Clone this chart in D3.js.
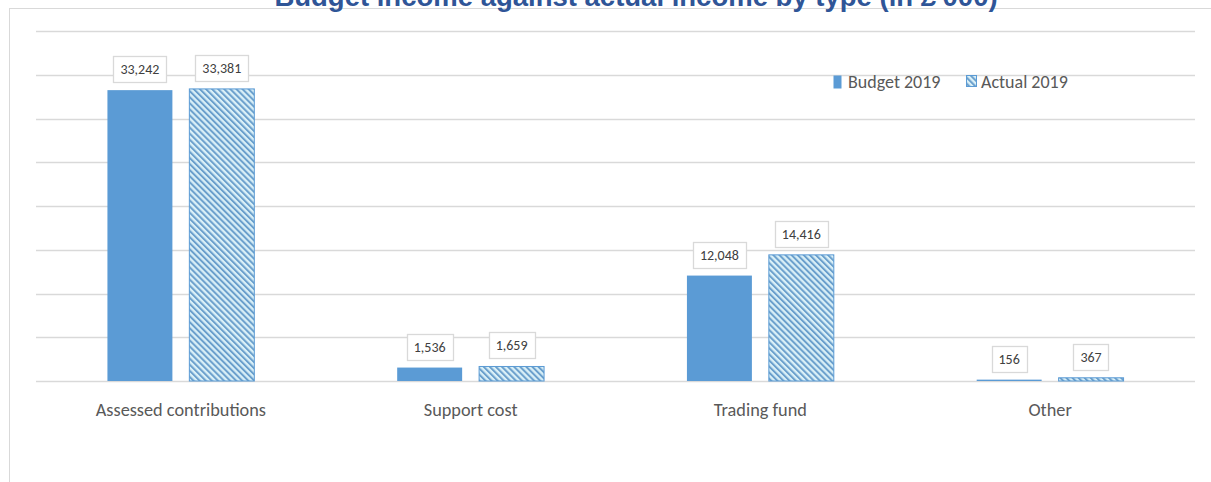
<!DOCTYPE html>
<html>
<head>
<meta charset="utf-8">
<script src="https://cdn.jsdelivr.net/npm/d3@7"></script>
<style>
  body { margin: 0; background: #fff; }
  svg { display: block; }
</style>
</head>
<body>
<div id="vis-container"></div>
<script>
// Chart data
const categories = ["Assessed contributions", "Support cost", "Trading fund", "Other"];
const seriesNames = ["Budget 2019", "Actual 2019"];
const budget2019 = [33242, 1536, 12048, 156];
const actual2019 = [33381, 1659, 14416, 367];
const gridTicks = [0, 5000, 10000, 15000, 20000, 25000, 30000, 35000, 40000];
const titleText = "Budget income against actual income by type (in £'000)";

const width = 1211;
const height = 482;
const margin = { top: 31, right: 16, bottom: 101, left: 36 };

const svg = d3.select("#vis-container")
  .append("svg")
  .attr("width", width)
  .attr("height", height);

// hatch pattern for the actual series
const defs = svg.append("defs");
const pat = defs.append("pattern")
  .attr("id", "hatch")
  .attr("patternUnits", "userSpaceOnUse")
  .attr("width", 4.3)
  .attr("height", 4.3)
  .attr("patternTransform", "rotate(-45)");
pat.append("rect").attr("width", 4.3).attr("height", 4.3).attr("fill", "#daf0f7");
pat.append("rect").attr("width", 2).attr("height", 4.3).attr("fill", "#6a9fcc");

// chart frame
svg.append("rect")
  .attr("x", 9.5)
  .attr("y", 8.5)
  .attr("width", width + 20)
  .attr("height", height + 20)
  .attr("fill", "none")
  .attr("stroke", "#d9d9d9");

// title (cut off at the top, as in the source)
svg.append("text")
  .attr("x", 636)
  .attr("y", 6)
  .attr("text-anchor", "middle")
  .attr("font-family", "Liberation Sans, Arial, sans-serif")
  .attr("font-weight", "bold")
  .attr("font-size", 27.5)
  .attr("fill", "#2f5597")
  .text(titleText);

// scales
const xScale = d3.scaleBand()
  .domain(categories)
  .range([margin.left, width - margin.right]);

const xSub = d3.scaleBand()
  .domain(seriesNames)
  .range([0, xScale.bandwidth()])
  .paddingInner(0.207)
  .paddingOuter(0.872);

const yScale = d3.scaleLinear()
  .domain([0, 40000])
  .range([height - margin.bottom, margin.top]);

// gridlines
svg.append("g")
  .selectAll("line")
  .data(gridTicks)
  .enter()
  .append("line")
  .attr("x1", margin.left)
  .attr("x2", width - margin.right)
  .attr("y1", (d) => Math.round(yScale(d)) + 0.5)
  .attr("y2", (d) => Math.round(yScale(d)) + 0.5)
  .attr("stroke", "#d9d9d9")
  .attr("stroke-width", 1.3);

// rows for bars
const rows = [];
categories.forEach((c, i) => {
  rows.push({ cat: c, series: seriesNames[0], value: budget2019[i] });
  rows.push({ cat: c, series: seriesNames[1], value: actual2019[i] });
});

const fills = { "Budget 2019": "#5b9bd5", "Actual 2019": "url(#hatch)" };

svg.append("g")
  .selectAll("rect")
  .data(rows)
  .enter()
  .append("rect")
  .attr("x", (d) => xScale(d.cat) + xSub(d.series))
  .attr("y", (d) => yScale(d.value))
  .attr("width", xSub.bandwidth())
  .attr("height", (d) => yScale(0) - yScale(d.value))
  .attr("fill", (d) => fills[d.series])
  .attr("stroke", (d) => d.series === "Actual 2019" ? "#5b9bd5" : "none")
  .attr("stroke-width", 1);

// data labels in boxes
const fmt = d3.format(",");
const labels = svg.append("g")
  .selectAll("g")
  .data(rows)
  .enter()
  .append("g");

labels.append("text")
  .attr("x", (d) => xScale(d.cat) + xSub(d.series) + xSub.bandwidth() / 2)
  .attr("y", (d) => yScale(d.value) - 16)
  .attr("text-anchor", "middle")
  .attr("font-family", "Carlito, 'Open Sans', sans-serif")
  .attr("font-size", 14)
  .attr("fill", "#404040")
  .text((d) => fmt(d.value));

labels.each(function (d) {
  const g = d3.select(this);
  const bb = g.select("text").node().getBBox();
  const base = yScale(d.value) - 16;
  g.insert("rect", "text")
    .attr("x", Math.round(bb.x - 7) + 0.5)
    .attr("y", Math.round(base - 18) + 0.5)
    .attr("width", Math.round(bb.width + 14))
    .attr("height", 26)
    .attr("fill", "#fff")
    .attr("stroke", "#d9d9d9")
    .attr("stroke-width", 1.3);
});

// category labels
svg.append("g")
  .selectAll("text")
  .data(categories)
  .enter()
  .append("text")
  .attr("x", (d) => xScale(d) + xScale.bandwidth() / 2)
  .attr("y", 416)
  .attr("text-anchor", "middle")
  .attr("font-family", "Carlito, 'Open Sans', sans-serif")
  .attr("font-size", 18.3)
  .attr("fill", "#595959")
  .text((d) => d);

// legend
const legend = svg.append("g").attr("transform", "translate(833,0)");
const legendX = [0, 133];
seriesNames.forEach((s, i) => {
  legend.append("rect")
    .attr("x", legendX[i] + 0.5)
    .attr("y", 75.5)
    .attr("width", i === 0 ? 8 : 10)
    .attr("height", i === 0 ? 13 : 11)
    .attr("fill", fills[s])
    .attr("stroke", i === 1 ? "#5b9bd5" : "none");
  legend.append("text")
    .attr("x", legendX[i] + 15)
    .attr("y", 88)
    .attr("font-family", "Carlito, 'Open Sans', sans-serif")
    .attr("font-size", 18)
    .attr("fill", "#595959")
    .text(s);
});
</script>
</body>
</html>
